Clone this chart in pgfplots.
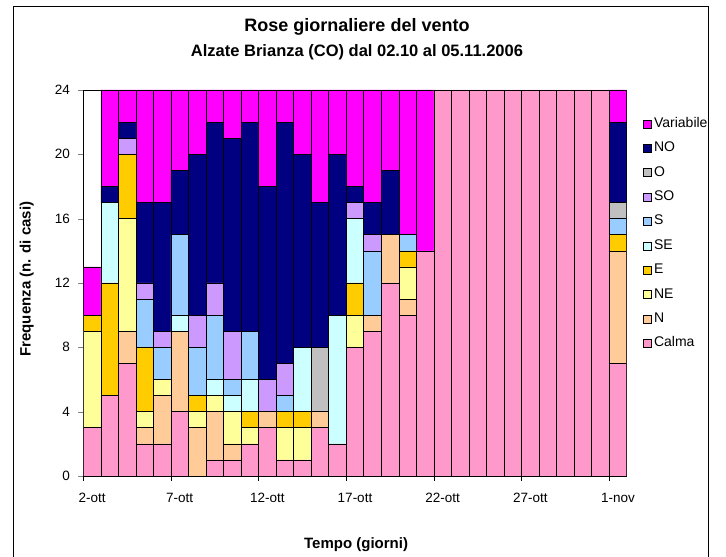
\documentclass[border=0pt]{standalone}
\usepackage{pgfplots}
\pgfplotsset{compat=1.18}
\usepackage{pgfplotstable}
\usepackage{fontspec}
\setmainfont{Liberation Sans}

\definecolor{calma}{HTML}{FF99CC}
\definecolor{vN}{HTML}{FFCC99}
\definecolor{vNE}{HTML}{FFFF99}
\definecolor{vE}{HTML}{FFCC00}
\definecolor{vSE}{HTML}{CCFFFF}
\definecolor{vS}{HTML}{99CCFF}
\definecolor{vSO}{HTML}{CC99FF}
\definecolor{vO}{HTML}{C0C0C0}
\definecolor{vNO}{HTML}{000080}
\definecolor{vVar}{HTML}{FF00FF}

% conteggi giornalieri per direzione (2 ott - 1 nov)
\pgfplotstableread{
day Calma N NE E SE S SO O NO Var
1  3  0 6 1 0 0 0 0 0  3
2  5  0 0 7 5 0 0 0 1  6
3  7  2 7 4 0 0 1 0 1  2
4  2  1 1 4 0 3 1 0 5  7
5  2  3 1 0 0 2 1 0 8  7
6  4  5 0 0 1 5 0 0 4  5
7  0  3 1 1 0 3 2 0 10 4
8  1  3 1 0 1 4 2 0 10 2
9  1  1 2 0 1 1 3 0 12 3
10 2  0 1 1 2 3 0 0 13 2
11 3  1 0 0 0 0 2 0 12 6
12 1  0 2 1 0 1 2 0 15 2
13 1  0 2 1 4 0 0 0 12 4
14 3  1 0 0 0 0 0 4 9  7
15 2  0 0 0 8 0 0 0 10 4
16 8  0 2 2 4 0 1 0 1  6
17 9  1 0 0 0 4 1 0 2  7
18 12 3 0 0 0 0 0 0 4  5
19 10 1 2 1 0 1 0 0 0  9
20 14 0 0 0 0 0 0 0 0  10
21 24 0 0 0 0 0 0 0 0  0
22 24 0 0 0 0 0 0 0 0  0
23 24 0 0 0 0 0 0 0 0  0
24 24 0 0 0 0 0 0 0 0  0
25 24 0 0 0 0 0 0 0 0  0
26 24 0 0 0 0 0 0 0 0  0
27 24 0 0 0 0 0 0 0 0  0
28 24 0 0 0 0 0 0 0 0  0
29 24 0 0 0 0 0 0 0 0  0
30 24 0 0 0 0 0 0 0 0  0
31 7  7 0 1 0 1 0 1 5  2
}\venti

\begin{document}
\begin{tikzpicture}[x=1pt,y=1pt]
\useasboundingbox (0,0) rectangle (726,557);
\draw[line width=0.9pt] (13,-5) -- (13,551) -- (708,551) -- (708,-5);
\node[font=\bfseries\fontsize{18}{20}\selectfont] at (357,530) {Rose giornaliere del vento};
\node[font=\bfseries\fontsize{16.5}{18}\selectfont] at (357,505) {Alzate Brianza (CO) dal 02.10 al 05.11.2006};
\begin{axis}[
    at={(83.3pt,81pt)}, anchor=south west,
    scale only axis,
    width=543.4pt, height=386pt,
    ybar stacked,
    bar width=17.53pt,
    xmin=0.5, xmax=31.5,
    ymin=0, ymax=24,
    ytick={0,4,...,24},
    xtick={1,6,11,16,21,26,31},
    xticklabels={2-ott,7-ott,12-ott,17-ott,22-ott,27-ott,1-nov},
    minor xtick={0.5,5.5,10.5,15.5,20.5,25.5,30.5},
    major x tick style={draw=none},
    minor x tick style={black},
    tick align=outside,
    major tick length=5pt, minor tick length=5pt,
    xtick pos=bottom, ytick pos=left,
    axis line style={black, line width=0.8pt},
    /pgf/number format/assume math mode=true,
    ticklabel style={font=\fontsize{13.5}{16}\selectfont},
    xticklabel style={yshift=-9pt},
    yticklabel style={xshift=-5pt},
    xlabel={Tempo (giorni)},
    ylabel={Frequenza (n. di casi)},
    xlabel style={font=\bfseries\fontsize{15}{17}\selectfont, at={(axis description cs:0.502,-0.179)}, anchor=center},
    ylabel style={font=\bfseries\fontsize{15}{17}\selectfont, at={(axis description cs:-0.1042,0.51)}, anchor=center},
    every axis plot/.append style={draw=black, line width=0.6pt},
    reverse legend,
    legend cell align=left,
    legend style={draw=none, fill=none, at={(1.025,0.94)}, anchor=north west,
        font=\fontsize{14}{16}\selectfont, row sep=7.4pt,
        nodes={inner sep=2pt, text height=10pt, text depth=3pt}},
    legend image code/.code={\draw[#1, draw=black, line width=0.6pt] (0pt,-4pt) rectangle (8pt,4pt);},
]
\addplot[fill=calma] table[x=day,y=Calma]{\venti};
\addplot[fill=vN]    table[x=day,y=N]{\venti};
\addplot[fill=vNE]   table[x=day,y=NE]{\venti};
\addplot[fill=vE]    table[x=day,y=E]{\venti};
\addplot[fill=vSE]   table[x=day,y=SE]{\venti};
\addplot[fill=vS]    table[x=day,y=S]{\venti};
\addplot[fill=vSO]   table[x=day,y=SO]{\venti};
\addplot[fill=vO]    table[x=day,y=O]{\venti};
\addplot[fill=vNO]   table[x=day,y=NO]{\venti};
\addplot[fill=vVar]  table[x=day,y=Var]{\venti};
\legend{Calma,N,NE,E,SE,S,SO,O,NO,Variabile}
\end{axis}
\end{tikzpicture}
\end{document}
